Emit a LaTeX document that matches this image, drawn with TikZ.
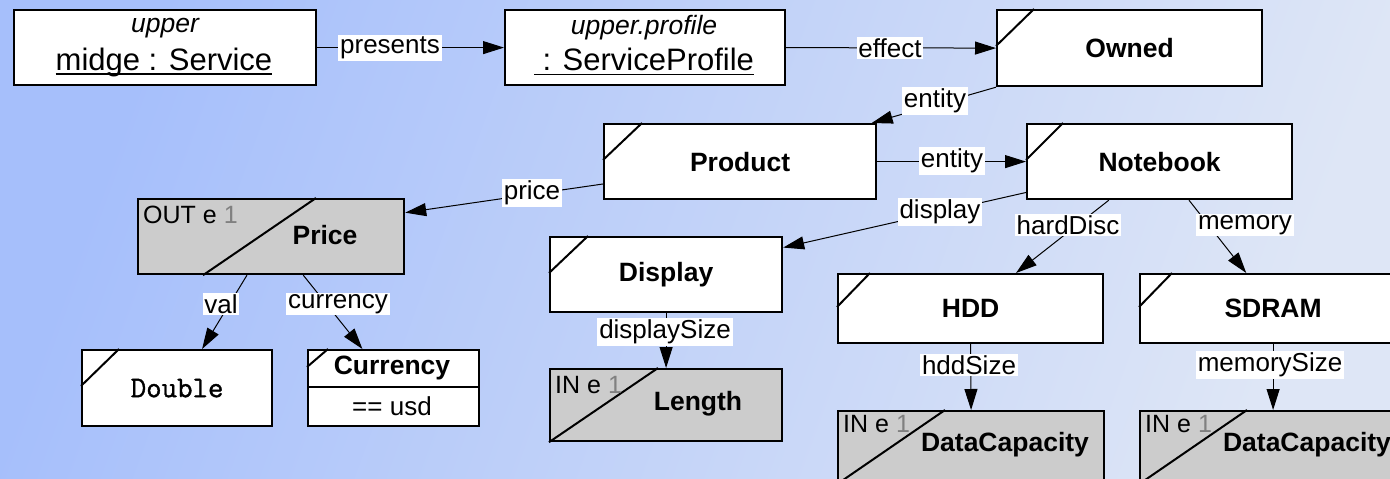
\documentclass[tikz,border=0pt]{standalone}
\usepackage{fontspec}
\setmainfont{Liberation Sans}
\newfontfamily\codefont[FakeBold=1.2]{Latin Modern Mono}
\usetikzlibrary{arrows.meta,calc}
\definecolor{bgA}{HTML}{A6BFFB}
\definecolor{bgB}{HTML}{DEE6F6}
\definecolor{boxgray}{HTML}{CCCCCC}
\newcommand\myul[1]{\leavevmode\setbox0\hbox{#1}\rlap{\rule[-4.5pt]{\wd0}{1.8pt}}\box0}
\newcommand\faintone{\textcolor{black!50}{1}}
\tikzset{
  box/.style={draw=black, line width=2.2pt, fill=white, anchor=north west, inner sep=0pt},
  graybox/.style={box, fill=boxgray},
  slashline/.style={line width=2pt},
  conn/.style={line width=1pt, -{Triangle[length=21pt,width=13pt]}},
  lbl/.style={fill=white, inner sep=1.8pt, font=\fontsize{26}{30}\selectfont},
  ttl/.style={font=\bfseries\fontsize{26.5}{30}\selectfont, inner sep=0pt},
  stereo/.style={font=\itshape\fontsize{26.5}{30}\selectfont, inner sep=0pt},
  objname/.style={font=\fontsize{31}{34}\selectfont, inner sep=0pt},
  dirtxt/.style={font=\fontsize{25}{28}\selectfont, inner sep=0pt, anchor=west},
  plain/.style={font=\fontsize{26}{30}\selectfont, inner sep=0pt},
  codetxt/.style={font=\codefont\fontsize{30}{34}\selectfont, inner sep=0pt},
}
\begin{document}
\begin{tikzpicture}[x=1pt,y=-1pt]
\useasboundingbox (0,0) rectangle (1390,479);
\clip (0,0) rectangle (1390,479);
\shade[left color=bgA, right color=bgB, shading angle=70] (-10,-10) rectangle (1400,490);

% boxes
\node[box, minimum width=302pt, minimum height=75pt] (midge) at (13,9) {};
\node[box, minimum width=280pt, minimum height=75pt] (sprof) at (504,9) {};
\node[box, minimum width=265pt, minimum height=76pt] (owned) at (996,9) {};
\node[box, minimum width=272pt, minimum height=75pt] (product) at (603,123) {};
\node[box, minimum width=265pt, minimum height=75pt] (notebook) at (1026,123) {};
\node[graybox, minimum width=266pt, minimum height=75pt] (price) at (137,198) {};
\node[box, minimum width=232pt, minimum height=75pt] (display) at (549,236) {};
\node[box, minimum width=265pt, minimum height=69pt] (hdd) at (837,273) {};
\node[box, minimum width=266pt, minimum height=69pt] (sdram) at (1139,273) {};
\node[box, minimum width=190pt, minimum height=76pt] (double) at (81,349) {};
\node[box, minimum width=171pt, minimum height=76pt] (currency) at (307,349) {};
\node[graybox, minimum width=232pt, minimum height=72pt] (length) at (549,368) {};
\node[graybox, minimum width=266pt, minimum height=72pt] (dc1) at (837,410) {};
\node[graybox, minimum width=266pt, minimum height=72pt] (dc2) at (1139,410) {};

% corner slashes
\draw[slashline] ($(owned.north west)+(0,37)$) -- ($(owned.north west)+(38,0)$);
\draw[slashline] ($(product.north west)+(0,37)$) -- ($(product.north west)+(39,0)$);
\draw[slashline] ($(notebook.north west)+(0,37)$) -- ($(notebook.north west)+(37,0)$);
\draw[slashline] ($(display.north west)+(0,37)$) -- ($(display.north west)+(39,0)$);
\draw[slashline] ($(hdd.north west)+(0,34)$) -- ($(hdd.north west)+(33,0)$);
\draw[slashline] ($(sdram.north west)+(0,34)$) -- ($(sdram.north west)+(33,0)$);
\draw[slashline] ($(double.north west)+(0,37)$) -- ($(double.north west)+(38,0)$);
\draw[slashline] ($(currency.north west)+(0,18)$) -- ($(currency.north west)+(21,0)$);
\draw[line width=1.5pt] ($(currency.north west)+(0,38)$) -- ($(currency.north east)+(0,38)$);
\draw[slashline] ($(price.south west)+(66,0)$) -- ($(price.north west)+(179,0)$);
\draw[slashline] (length.south west) -- ($(length.north west)+(109,0)$);
\draw[slashline] (dc1.south west) -- ($(dc1.north west)+(108,0)$);
\draw[slashline] (dc2.south west) -- ($(dc2.north west)+(108,0)$);

% connectors
\draw[conn] (midge.east) -- (sprof.west);
\draw[conn] (sprof.east) -- (owned.west);
\draw[conn] (owned.south west) -- ($(product.north west)!0.98!(product.north east)$);
\draw[conn] (product.east) -- (notebook.west);
\draw[conn] ($(product.north west)!0.79!(product.south west)$) -- ($(price.north east)!0.19!(price.south east)$);
\draw[conn] ($(notebook.north west)!0.9!(notebook.south west)$) -- ($(display.north east)!0.15!(display.south east)$);
\draw[conn] ($(notebook.south west)!0.31!(notebook.south east)$) -- ($(hdd.north west)!0.67!(hdd.north east)$);
\draw[conn] ($(notebook.south west)!0.61!(notebook.south east)$) -- ($(sdram.north west)!0.40!(sdram.north east)$);
\draw[conn] ($(price.south west)!0.41!(price.south east)$) -- ($(double.north west)!0.63!(double.north east)$);
\draw[conn] ($(price.south west)!0.62!(price.south east)$) -- ($(currency.north west)!0.32!(currency.north east)$);
\draw[conn] (display.south) -- (length.north);
\draw[conn] (hdd.south) -- (dc1.north);
\draw[conn] (sdram.south) -- (dc2.north);

% connector labels
\node[lbl] (l1) at (390,48) {presents};
\node[lbl] (l2) at (890,48) {effect};
\node[lbl] (l3) at (935,101) {entity};
\node[lbl] (l4) at (952,161) {entity};
\node[lbl] (l5) at (532,193) {price};
\node[lbl] (l6) at (940,212) {display};
\node[lbl] (l7) at (1068,225) {hardDisc};
\node[lbl] (l8) at (1245,225) {memory};
\node[lbl] (l9) at (221,304) {val};
\node[lbl] (l10) at (338,304) {currency};
\node[lbl] (l11) at (665,332) {displaySize};
\node[lbl] (l12) at (969,365) {hddSize};
\node[lbl] (l13) at (1270,365) {memorySize};

% box texts
\node[stereo] (t1a) at (165,28) {upper};
\node[objname] (t1b) at (164,62) {\myul{midge : Service}};
\node[stereo] (t2a) at (644,28) {upper.profile};
\node[objname] (t2b) at (644,62) {\myul{\ : ServiceProfile}};
\node[ttl] (t3) at (owned.center) {Owned};
\node[ttl] (t4) at (product.center) {Product};
\node[ttl] (t5) at (notebook.center) {Notebook};
\node[ttl] (t6) at (display.center) {Display};
\node[ttl] (t7) at (hdd.center) {HDD};
\node[ttl] (t8) at (sdram.center) {SDRAM};
\node[codetxt] (t9) at (double.center) {Double};
\node[ttl] (t10) at (392,368) {Currency};
\node[plain] (t11) at (392,406) {== usd};
\node[ttl] (t12) at (325,235) {Price};
\node[dirtxt] (t13) at (143,215) {OUT e \faintone};
\node[ttl] (t14) at (698,404) {Length};
\node[dirtxt] (t15) at (555,385) {IN e \faintone};
\node[ttl] (t16) at (1005,445) {DataCapacity};
\node[dirtxt] (t17) at (843,424) {IN e \faintone};
\node[ttl] (t18) at (1307,445) {DataCapacity};
\node[dirtxt] (t19) at (1145,424) {IN e \faintone};
\end{tikzpicture}
\end{document}
